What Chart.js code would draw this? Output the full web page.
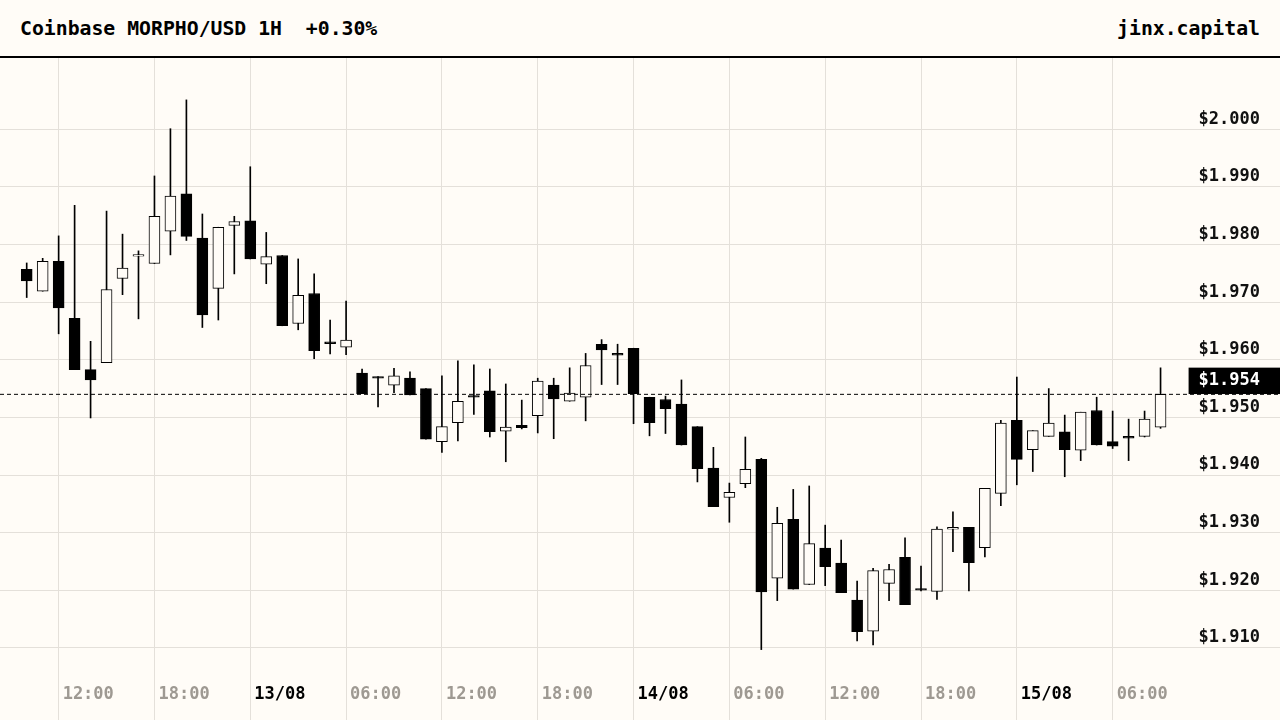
<!DOCTYPE html>
<html>
<head>
<meta charset="utf-8">
<script src="https://cdn.jsdelivr.net/npm/chart.js@4.4.0/dist/chart.umd.min.js"></script>
<style>
  html, body { margin: 0; padding: 0; background: #fffcf7; }
  body { width: 1280px; height: 720px; overflow: hidden; font-family: "DejaVu Sans Mono", monospace; }
  #hdr {
    height: 55px; line-height: 56px; padding-top: 1px; border-bottom: 2px solid #000;
    padding-left: 20px; padding-right: 20px; display: flex; justify-content: space-between;
    font-size: 19.8px; font-weight: bold; color: #000; white-space: pre;
  }
  #wrap { position: relative; width: 1280px; height: 662px; }
</style>
</head>
<body>
<div id="hdr"><span>Coinbase MORPHO/USD 1H  +0.30%</span><span>jinx.capital</span></div>
<div id="wrap"><canvas id="candles"></canvas></div>
<script>
// hourly candles, 12/08 10:00 -> 15/08 09:00
const opens = [
  1.9757, 1.9719, 1.9771, 1.9672, 1.9583, 1.9595, 1.9741, 1.9780, 1.9767, 1.9823, 1.9888, 1.9811,
  1.9724, 1.9833, 1.9841, 1.9766, 1.9781, 1.9663, 1.9715, 1.9631, 1.9622, 1.9577, 1.9571, 1.9556,
  1.9568, 1.9550, 1.9458, 1.9491, 1.9538, 1.9546, 1.9476, 1.9486, 1.9503, 1.9556, 1.9528, 1.9535,
  1.9627, 1.9611, 1.9620, 1.9535, 1.9531, 1.9523, 1.9484, 1.9412, 1.9361, 1.9385, 1.9427, 1.9221,
  1.9323, 1.9210, 1.9273, 1.9247, 1.9183, 1.9129, 1.9212, 1.9257, 1.9203, 1.9198, 1.9306, 1.9309,
  1.9274, 1.9368, 1.9495, 1.9444, 1.9467, 1.9475, 1.9443, 1.9512, 1.9458, 1.9467, 1.9467, 1.9483
];
const highs = [
  1.9768, 1.9776, 1.9815, 1.9868, 1.9632, 1.9858, 1.9818, 1.9789, 1.9919, 2.0001, 2.0051, 1.9853,
  1.9830, 1.9849, 1.9935, 1.9821, 1.9781, 1.9775, 1.9749, 1.9669, 1.9702, 1.9584, 1.9571, 1.9585,
  1.9579, 1.9550, 1.9572, 1.9598, 1.9591, 1.9584, 1.9558, 1.9530, 1.9568, 1.9568, 1.9586, 1.9611,
  1.9635, 1.9627, 1.9620, 1.9535, 1.9537, 1.9565, 1.9484, 1.9448, 1.9386, 1.9466, 1.9429, 1.9344,
  1.9375, 1.9381, 1.9313, 1.9287, 1.9216, 1.9238, 1.9245, 1.9291, 1.9242, 1.9310, 1.9336, 1.9309,
  1.9377, 1.9495, 1.9570, 1.9477, 1.9550, 1.9504, 1.9509, 1.9535, 1.9511, 1.9497, 1.9511, 1.9586
];
const lows = [
  1.9708, 1.9719, 1.9645, 1.9583, 1.9499, 1.9595, 1.9713, 1.9671, 1.9767, 1.9782, 1.9807, 1.9656,
  1.9669, 1.9749, 1.9775, 1.9732, 1.9659, 1.9652, 1.9602, 1.9610, 1.9609, 1.9541, 1.9518, 1.9543,
  1.9539, 1.9462, 1.9439, 1.9459, 1.9505, 1.9466, 1.9423, 1.9480, 1.9473, 1.9463, 1.9528, 1.9494,
  1.9557, 1.9557, 1.9489, 1.9468, 1.9472, 1.9452, 1.9388, 1.9345, 1.9318, 1.9378, 1.9097, 1.9182,
  1.9202, 1.9210, 1.9208, 1.9196, 1.9112, 1.9105, 1.9182, 1.9175, 1.9199, 1.9184, 1.9267, 1.9199,
  1.9258, 1.9347, 1.9383, 1.9406, 1.9467, 1.9397, 1.9425, 1.9452, 1.9446, 1.9425, 1.9466, 1.9481
];
const closes = [
  1.9737, 1.9771, 1.9690, 1.9583, 1.9565, 1.9722, 1.9759, 1.9780, 1.9849, 1.9884, 1.9814, 1.9678,
  1.9830, 1.9840, 1.9775, 1.9779, 1.9659, 1.9712, 1.9616, 1.9628, 1.9634, 1.9541, 1.9568, 1.9572,
  1.9539, 1.9462, 1.9484, 1.9528, 1.9535, 1.9475, 1.9483, 1.9482, 1.9563, 1.9532, 1.9542, 1.9590,
  1.9617, 1.9608, 1.9541, 1.9491, 1.9515, 1.9452, 1.9411, 1.9345, 1.9370, 1.9410, 1.9197, 1.9316,
  1.9202, 1.9281, 1.9241, 1.9196, 1.9128, 1.9234, 1.9236, 1.9175, 1.9200, 1.9306, 1.9309, 1.9248,
  1.9377, 1.9490, 1.9427, 1.9477, 1.9490, 1.9444, 1.9509, 1.9452, 1.9450, 1.9464, 1.9497, 1.9540
];

// x ticks: candle index -> label
const xTickIdx = [2, 8, 14, 20, 26, 32, 38, 44, 50, 56, 62, 68];
const xTickLabels = ['12:00', '18:00', '13/08', '06:00', '12:00', '18:00', '14/08', '06:00', '12:00', '18:00', '15/08', '06:00'];
const yTicks = [1.91, 1.92, 1.93, 1.94, 1.95, 1.96, 1.97, 1.98, 1.99, 2.00];

const BG = '#fffcf7';
const GRID = '#e4e0da';
const MONO = '"DejaVu Sans Mono", monospace';

const xMin = -1.672, xMax = 78.48;
const yMin = 1.90616, yMax = 2.01237;
const lastPrice = closes[closes.length - 1];

const bodies = opens.map((o, i) => ({ x: i, y: [o, closes[i]] }));
const wicks = lows.map((l, i) => ({ x: i, y: [l, highs[i]] }));
const bodyColors = opens.map((o, i) => closes[i] >= o ? BG : '#000');

new Chart(document.getElementById('candles'), {
    type: 'bar',
    data: {
        datasets: [{
            type: 'line',
            data: [{ x: xMin, y: lastPrice }, { x: xMax, y: lastPrice }],
            borderColor: '#000',
            borderWidth: 1,
            borderDash: [4, 3],
            pointRadius: 0,
            order: 0
        }, {
            data: bodies,
            backgroundColor: bodyColors,
            borderColor: '#000',
            borderWidth: 1,
            borderSkipped: false,
            barThickness: 11,
            minBarLength: 1.5,
            grouped: false,
            order: 1
        }, {
            data: wicks,
            backgroundColor: '#000',
            borderWidth: 0,
            barThickness: 1,
            grouped: false,
            order: 2
        }]
    },
    options: {
        responsive: true,
        maintainAspectRatio: false,
        animation: false,
        events: [],
        layout: { padding: 0 },
        plugins: {
            legend: { display: false },
            tooltip: { enabled: false }
        },
        scales: {
            x: {
                type: 'linear',
                min: xMin,
                max: xMax,
                offset: false,
                afterBuildTicks: (s) => { s.ticks = xTickIdx.map(v => ({ value: v })); },
                afterFit: (s) => { s.height = 50; },
                grid: { color: GRID, tickColor: GRID, tickLength: 50, offset: false },
                border: { display: false },
                ticks: {
                    autoSkip: false,
                    maxRotation: 0,
                    align: 'start',
                    labelOffset: 4,
                    padding: -36,
                    font: { family: MONO, size: 17, weight: 'bold' },
                    color: (c) => xTickLabels[c.index].includes('/') ? '#000' : '#9e9992',
                    callback: (v) => {
                        const k = xTickIdx.indexOf(v);
                        return k >= 0 ? xTickLabels[k] : '';
                    }
                }
            },
            y: {
                type: 'linear',
                position: 'right',
                min: yMin,
                max: yMax,
                beginAtZero: false,
                afterBuildTicks: (s) => { s.ticks = yTicks.map(v => ({ value: v })); },
                afterFit: (s) => { s.width = 0; },
                grid: { color: GRID, drawTicks: false },
                border: { display: false },
                ticks: {
                    mirror: true,
                    padding: -20,
                    labelOffset: -10,
                    color: '#111',
                    font: { family: MONO, size: 17, weight: 'bold' },
                    callback: (v) => '$' + v.toFixed(3)
                }
            },
            price: {
                type: 'linear',
                position: 'right',
                min: yMin,
                max: yMax,
                afterBuildTicks: (s) => { s.ticks = [{ value: lastPrice }]; },
                afterFit: (s) => { s.width = 0; },
                grid: { display: false },
                border: { display: false },
                ticks: {
                    z: 1,
                    mirror: true,
                    padding: -20,
                    labelOffset: -13.5,
                    color: '#fff',
                    showLabelBackdrop: true,
                    backdropColor: '#000',
                    backdropPadding: { top: 3, bottom: 3, left: 10, right: 20 },
                    font: { family: MONO, size: 17, weight: 'bold' },
                    callback: (v) => '$' + v.toFixed(3)
                }
            }
        }
    }
});
</script>
</body>
</html>
